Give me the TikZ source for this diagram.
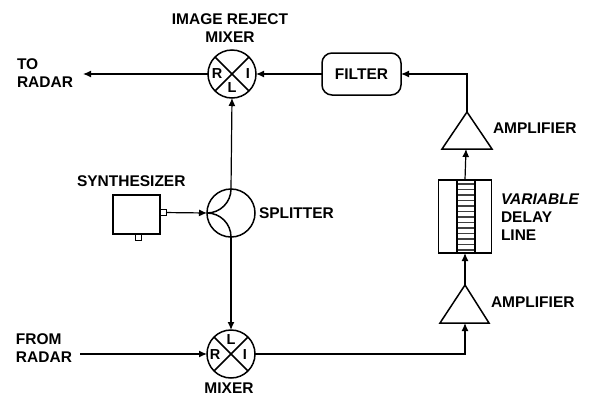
\documentclass[tikz,border=0pt]{standalone}
\usepackage{fontspec}
\setmainfont{Liberation Sans}
\usetikzlibrary{positioning,arrows.meta}
\tikzstyle{mixerNode}=[draw,circle,minimum size=48pt,inner sep=0pt,outer sep=0pt,line width=1.5pt]
\tikzstyle{signalPath}=[-{Latex[length=8pt,width=7pt]}, line width=1.2pt]
\tikzstyle{labelText}=[font=\bfseries\fontsize{15.5}{18}\selectfont, align=center, inner sep=0pt, outer sep=0pt]
\tikzstyle{portLetter}=[font=\bfseries\fontsize{14.5}{14.5}\selectfont, inner sep=0pt]
\tikzstyle{portBox}=[draw,line width=1pt,minimum size=6pt,inner sep=0pt,outer sep=0pt]
\tikzstyle{thickLine}=[line width=1.5pt]

\begin{document}
\begin{tikzpicture}[x=1pt,y=-1pt]
	\useasboundingbox (0,0) rectangle (590,397);

	\node[mixerNode] (irm) at (232,74) {};
	\node[mixerNode] (split) at (231,213) {};
	\node[mixerNode] (mix) at (231,354) {};

	\draw[thickLine] (irm.45) -- (irm.225);
	\draw[thickLine] (irm.135) -- (irm.315);
	\draw[thickLine] (mix.45) -- (mix.225);
	\draw[thickLine] (mix.135) -- (mix.315);

	\node[portLetter] (irmR) at (217,74) {R};
	\node[portLetter] (irmI) at (248,74) {I};
	\node[portLetter] (irmL) at (232,88) {L};
	\node[portLetter] (mixR) at (215,355) {R};
	\node[portLetter] (mixI) at (245,355) {I};
	\node[portLetter] (mixL) at (231,340) {L};

	\node[draw,rounded corners=10pt,thickLine,minimum width=79pt,minimum height=42pt,labelText] (filter) at (361.5,74) {FILTER};

	\node[draw,thickLine,outer sep=0pt,minimum width=47pt,minimum height=39pt] (synth) at (136.5,214.5) {};
	\node[portBox] (synthOut) at (163,212.5) {};
	\node[portBox] (synthLow) at (138,237) {};

	\node[draw,thickLine,outer sep=0pt,minimum width=53pt,minimum height=73pt] (delay) at (465,216.5) {};
	\foreach \y in {184,189.5,...,250}
		\draw[line width=1.1pt,black!75] (457,\y) -- (475,\y);
	\draw[thickLine] (457,180) -- (457,253);
	\draw[thickLine] (475,180) -- (475,253);

	\coordinate (amp1tip) at (467,112);
	\coordinate (amp1left) at (442,149);
	\coordinate (amp1right) at (492,149);
	\coordinate (amp1base) at (466,149);
	\coordinate (amp2tip) at (465,285);
	\coordinate (amp2left) at (440,323);
	\coordinate (amp2right) at (489,323);
	\coordinate (amp2base) at (465,323);
	\draw[thickLine] (amp1tip) -- (amp1left) -- (amp1right) -- cycle;
	\draw[thickLine] (amp2tip) -- (amp2left) -- (amp2right) -- cycle;

	\node[labelText] (irmText) at (230,28) {IMAGE REJECT\\MIXER};
	\node[labelText, anchor=west, align=left] (toText) at (17,73) {TO\\RADAR};
	\node[labelText, anchor=west, align=left] (fromText) at (16,348) {FROM\\RADAR};
	\node[labelText] (mixText) at (229,388) {MIXER};
	\node[labelText, anchor=west] (synthText) at (77,181) {SYNTHESIZER};
	\node[labelText, anchor=west] (splitText) at (259,213) {SPLITTER};
	\node[labelText, anchor=west] (amp1Text) at (493,128) {AMPLIFIER};
	\node[labelText, anchor=west] (amp2Text) at (491,302) {AMPLIFIER};
	\node[labelText, anchor=west, align=left] (delayText) at (501,217) {\textit{VARIABLE}\\DELAY\\LINE};

	\coordinate (toEnd) at (83,74);
	\coordinate (fromStart) at (80,354);
	\coordinate (corner1) at (465,354);
	\coordinate (corner2) at (467,74);

	\draw[signalPath] (irm.west) -- (toEnd);
	\draw[signalPath] (filter) -- (irm);
	\draw[signalPath] (split.north) -- (irm.south);
	\draw[signalPath] (synthOut) -- (split.west);
	\draw[signalPath] (split.south) -- (mix.north);
	\draw[signalPath] (fromStart) -- (mix.west);
	\draw[signalPath] (mix.east) -- (corner1) -- (amp2base);
	\draw[signalPath] (amp2tip) -- (delay.south);
	\draw[signalPath] (delay.north) -- (amp1base);
	\draw[signalPath] (amp1tip) -- (corner2) -- (filter.east);

	\draw[thickLine] (split.west) to[out=0,in=270] (split.north);
	\draw[thickLine] (split.west) to[out=0,in=90] (split.south);
\end{tikzpicture}
\end{document}
